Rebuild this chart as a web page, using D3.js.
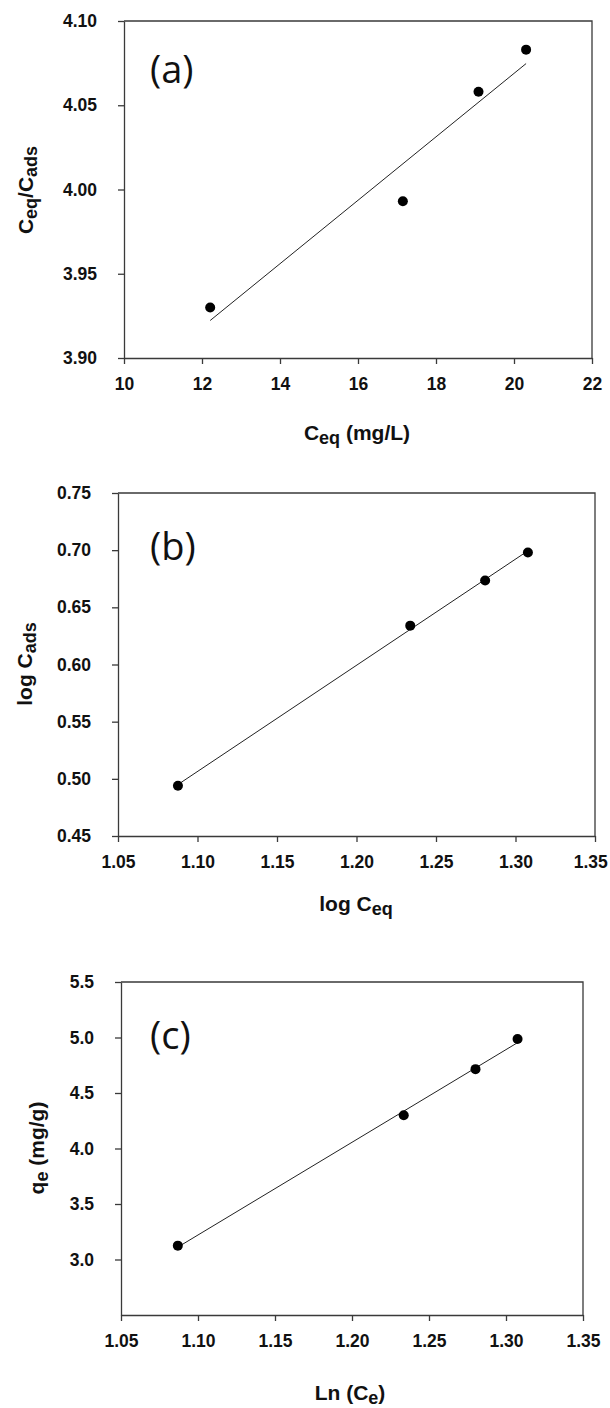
<!DOCTYPE html>
<html>
<head>
<meta charset="utf-8">
<script src="https://cdn.jsdelivr.net/npm/d3@7"></script>
<style>
  body { margin: 0; background: #fff; }
  svg { display: block; }
</style>
</head>
<body>
<script>
// (a) Langmuir: Ceq vs Ceq/Cads
var ceqA = [12.21, 17.15, 19.09, 20.31]
var ratioA = [3.930, 3.993, 4.058, 4.083]
var ticksAx = [10, 12, 14, 16, 18, 20, 22]
var ticksAy = [3.90, 3.95, 4.00, 4.05, 4.10]

// (b) Freundlich: log Ceq vs log Cads
var logCeqB = [1.0877, 1.2338, 1.2809, 1.3078]
var logCadsB = [0.494, 0.634, 0.6735, 0.698]
var ticksBx = [1.05, 1.10, 1.15, 1.20, 1.25, 1.30, 1.35]
var ticksBy = [0.45, 0.50, 0.55, 0.60, 0.65, 0.70, 0.75]

// (c) Temkin: Ln(Ce) vs qe
var lnCeC = [1.0869, 1.2336, 1.2802, 1.3075]
var qeC = [3.125, 4.30, 4.715, 4.987]
var ticksCx = [1.05, 1.10, 1.15, 1.20, 1.25, 1.30, 1.35]
var ticksCy = [3.0, 3.5, 4.0, 4.5, 5.0, 5.5]

var W = 610
var H = 1408

var panels = [
  {
    letter: '(a)', xs: ceqA, ys: ratioA,
    xDomain: [10, 22], yDomain: [3.90, 4.10],
    xTicks: ticksAx, yTicks: ticksAy,
    xFormat: d3.format('d'), yFormat: d3.format('.2f'),
    left: 124, right: 592, top: 21, bottom: 358,
    xTitle: [['C'], ['eq', 1], [' (mg/L)']], xTitlePos: [357, 440],
    yTitle: [['C'], ['eq', 1], ['/C'], ['ads', 1]], yTitlePos: [33, 190]
  },
  {
    letter: '(b)', xs: logCeqB, ys: logCadsB,
    xDomain: [1.05, 1.35], yDomain: [0.45, 0.75],
    xTicks: ticksBx, yTicks: ticksBy,
    xFormat: d3.format('.2f'), yFormat: d3.format('.2f'),
    left: 118, right: 595, top: 493, bottom: 836,
    xTitle: [['log C'], ['eq', 1]], xTitlePos: [356, 911],
    yTitle: [['log C'], ['ads', 1]], yTitlePos: [32, 664]
  },
  {
    letter: '(c)', xs: lnCeC, ys: qeC,
    xDomain: [1.05, 1.35], yDomain: [2.5, 5.5],
    xTicks: ticksCx, yTicks: ticksCy,
    xFormat: d3.format('.2f'), yFormat: d3.format('.1f'),
    left: 121, right: 583, top: 982, bottom: 1315,
    xTitle: [['Ln (C'], ['e', 1], [')']], xTitlePos: [350, 1400],
    yTitle: [['q'], ['e', 1], [' (mg/g)']], yTitlePos: [44, 1148]
  }
]

var svg = d3
  .select('body')
  .append('svg')
  .attr('width', W)
  .attr('height', H)

// least squares line through the points
function fit(xs, ys) {
  var mx = d3.mean(xs)
  var my = d3.mean(ys)
  var sxy = d3.sum(xs, (d, i) => (d - mx) * (ys[i] - my))
  var sxx = d3.sum(xs, d => (d - mx) * (d - mx))
  var slope = sxy / sxx
  return x => my + slope * (x - mx)
}

function styleAxis(sel) {
  sel.attr('font-family', '"Liberation Sans", Arial, sans-serif')
    .attr('font-size', 17.5)
    .attr('font-weight', 'bold')
  sel.select('.domain').attr('stroke', '#3a3a3a').attr('stroke-width', 1.3)
  sel.selectAll('.tick line').attr('stroke', '#3a3a3a').attr('stroke-width', 1.3)
  sel.selectAll('.tick text').attr('fill', '#111')
}

// keep the last tick label inside the page
function clampLabels(sel) {
  sel.selectAll('.tick text').each(function() {
    var box = this.getBoundingClientRect()
    if (box.right > W - 2) d3.select(this).attr('dx', W - 2 - box.right)
  })
}

function addTitle(parts, pos, rotate) {
  var t = svg
    .append('text')
    .attr('transform', `translate(${pos[0]},${pos[1]})` + (rotate ? ' rotate(-90)' : ''))
    .attr('text-anchor', 'middle')
    .attr('font-family', '"Liberation Sans", Arial, sans-serif')
    .attr('font-size', 21)
    .attr('font-weight', 'bold')
    .attr('fill', '#111')
  var shifted = false
  parts.forEach(function(p) {
    var s = t.append('tspan').text(p[0])
    if (p[1]) {
      s.attr('font-size', 18).attr('dy', 4)
      shifted = true
    } else if (shifted) {
      s.attr('dy', -4)
      shifted = false
    }
  })
}

panels.forEach(function(p) {
  var x = d3.scaleLinear().domain(p.xDomain).range([p.left, p.right])
  var y = d3.scaleLinear().domain(p.yDomain).range([p.bottom, p.top])

  // top and right edges of the frame
  svg
    .append('path')
    .attr('d', `M${p.left},${p.top}H${p.right}V${p.bottom}`)
    .attr('fill', 'none')
    .attr('stroke', '#3a3a3a')
    .attr('stroke-width', 1.3)

  svg
    .append('g')
    .attr('transform', `translate(0,${p.bottom})`)
    .call(
      d3.axisBottom(x)
        .tickValues(p.xTicks)
        .tickFormat(p.xFormat)
        .tickSize(6)
        .tickSizeOuter(0)
        .tickPadding(14)
    )
    .call(styleAxis)
    .call(clampLabels)

  svg
    .append('g')
    .attr('transform', `translate(${p.left},0)`)
    .call(
      d3.axisLeft(y)
        .tickValues(p.yTicks)
        .tickFormat(p.yFormat)
        .tickSize(6)
        .tickSizeOuter(0)
        .tickPadding(21)
    )
    .call(styleAxis)

  // regression line
  var f = fit(p.xs, p.ys)
  var ext = d3.extent(p.xs)
  svg
    .append('line')
    .attr('x1', x(ext[0]))
    .attr('y1', y(f(ext[0])))
    .attr('x2', x(ext[1]))
    .attr('y2', y(f(ext[1])))
    .attr('stroke', '#222')
    .attr('stroke-width', 1)

  svg
    .append('g')
    .selectAll('circle')
    .data(p.xs)
    .enter()
    .append('circle')
    .attr('cx', d => x(d))
    .attr('cy', (d, i) => y(p.ys[i]))
    .attr('r', 5)
    .attr('fill', '#000')

  svg
    .append('text')
    .attr('x', 150)
    .attr('y', p.top + (p.letter === '(a)' ? 62 : 67))
    .attr('font-family', '"Open Sans", "Noto Sans", sans-serif')
    .attr('font-size', 38)
    .attr('fill', '#111')
    .text(p.letter)

  addTitle(p.xTitle, p.xTitlePos, false)
  addTitle(p.yTitle, p.yTitlePos, true)
})
</script>
</body>
</html>
